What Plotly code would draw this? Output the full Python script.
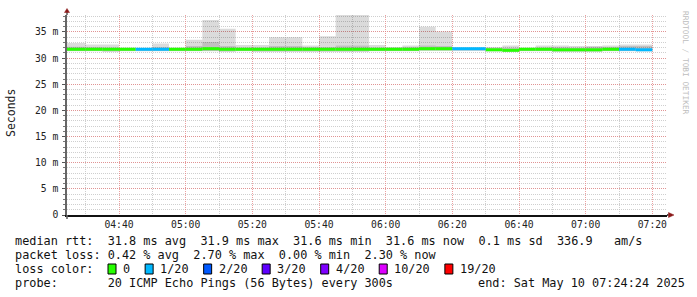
import plotly.graph_objects as go

# ---------------- data ----------------
day = "2025-05-10 "
bin_start = ["04:20", "04:25", "04:30", "04:35", "04:40", "04:45", "04:50", "04:55",
             "05:00", "05:05", "05:10", "05:15", "05:20", "05:25", "05:30", "05:35",
             "05:40", "05:45", "05:50", "05:55", "06:00", "06:05", "06:10", "06:15",
             "06:20", "06:25", "06:30", "06:35", "06:40", "06:45", "06:50", "06:55",
             "07:00", "07:05", "07:10", "07:15"]
data_end = "07:20"

median_ms = [31.7, 31.7, 31.7, 31.7, 31.7, 31.7, 31.7, 31.7,
             31.7, 31.8, 31.7, 31.7, 31.7, 31.7, 31.7, 31.7,
             31.7, 31.7, 31.7, 31.7, 31.7, 31.7, 31.8, 31.8,
             31.8, 31.8, 31.6, 31.5, 31.7, 31.7, 31.6, 31.6,
             31.6, 31.7, 31.7, 31.6]
loss_of_20 = [0, 0, 0, 0, 0, 1, 1, 0,
              0, 0, 0, 0, 0, 0, 0, 0,
              0, 0, 0, 0, 0, 0, 0, 0,
              1, 1, 0, 0, 0, 0, 0, 0,
              0, 0, 1, 1]
smoke_min = [31.3, 31.3, 31.3, 31.2, 31.3, 31.3, 31.3, 31.3,
             31.3, 31.3, 31.2, 31.3, 31.2, 31.2, 31.2, 31.2,
             31.2, 31.2, 31.2, 31.3, 31.3, 31.3, 31.4, 31.4,
             31.4, 31.4, 31.3, 31.2, 31.3, 31.3, 31.2, 31.2,
             31.2, 31.3, 31.3, 31.3]
smoke_max = [32.9, 32.9, 32.6, 32.6, 32.0, 31.9, 32.8, 32.0,
             33.5, 37.3, 35.6, 32.5, 32.5, 34.0, 34.0, 32.4,
             34.2, 39.0, 39.0, 32.5, 32.1, 32.4, 36.0, 35.1,
             32.0, 32.0, 32.1, 32.4, 32.0, 32.4, 32.4, 32.3,
             32.3, 32.4, 32.6, 32.6]
core_lo = [31.35, 31.35, 31.35, 31.25, 31.35, 31.35, 31.35, 31.35,
           31.35, 31.35, 31.25, 31.35, 31.25, 31.25, 31.25, 31.25,
           31.25, 31.25, 31.25, 31.35, 31.35, 31.35, 31.45, 31.45,
           31.45, 31.45, 31.3, 31.2, 31.35, 31.35, 31.25, 31.25,
           31.25, 31.35, 31.35, 31.3]
core_hi = [32.2, 32.2, 32.1, 32.0, 31.9, 31.9, 32.1, 31.9,
           32.3, 33.1, 32.3, 32.0, 32.0, 32.3, 32.3, 32.1,
           32.1, 32.4, 32.4, 32.0, 32.0, 32.1, 32.4, 32.3,
           32.0, 32.0, 32.0, 32.0, 31.9, 32.0, 32.1, 32.0,
           32.2, 32.1, 32.3, 32.3]

y_ticks = [0, 5, 10, 15, 20, 25, 30, 35]
y_ticktext = ["0", "5 m", "10 m", "15 m", "20 m", "25 m", "30 m", "35 m"]

loss_levels = [0, 1, 2, 3, 4, 10, 19]
loss_labels = ["0", "1/20", "2/20", "3/20", "4/20", "10/20", "19/20"]
loss_colors = ["#26ff00", "#00b8ff", "#0059ff", "#5e00ff", "#7e00ff", "#dd00ff", "#ff0000"]

stats_rtt = "median rtt:  31.8 ms avg  31.9 ms max  31.6 ms min  31.6 ms now  0.1 ms sd  336.9   am/s"
stats_loss = "packet loss: 0.42 % avg  2.70 % max  0.00 % min  2.30 % now"
probe_line = "probe:       20 ICMP Echo Pings (56 Bytes) every 300s"
end_line = "end: Sat May 10 07:24:24 2025"

# ---------------- geometry helpers ----------------
W, H = 697, 297
L, T, PW, PH = 67, 15, 600, 200


def px(x):
    return (x - L) / PW


def py(y):
    return (T + PH - y) / PH


def nb(s):
    return s.replace(" ", "\u00a0")


x_step = [day + t for t in bin_start] + [day + data_end]


def stepped(vals):
    return list(vals) + [vals[-1]]


fig = go.Figure()

# outer smoke
fig.add_trace(go.Scatter(x=x_step, y=stepped(smoke_min), mode="lines", line=dict(width=0, shape="hv"),
                         hoverinfo="skip", showlegend=False))
fig.add_trace(go.Scatter(x=x_step, y=stepped(smoke_max), mode="lines", line=dict(width=0, shape="hv"),
                         fill="tonexty", fillcolor="rgba(0,0,0,0.14)", hoverinfo="skip", showlegend=False))
# inner smoke
fig.add_trace(go.Scatter(x=x_step, y=stepped(core_lo), mode="lines", line=dict(width=0, shape="hv"),
                         hoverinfo="skip", showlegend=False))
fig.add_trace(go.Scatter(x=x_step, y=stepped(core_hi), mode="lines", line=dict(width=0, shape="hv"),
                         fill="tonexty", fillcolor="rgba(0,0,0,0.12)", hoverinfo="skip", showlegend=False))

# median segments coloured by loss
for lvl, col in zip(loss_levels, loss_colors):
    xs, ys = [], []
    for i, (m, l) in enumerate(zip(median_ms, loss_of_20)):
        if l == lvl:
            xs += [x_step[i], x_step[i + 1], None]
            ys += [m, m, None]
    if xs:
        fig.add_trace(go.Scatter(x=xs, y=ys, mode="lines", line=dict(width=3, color=col),
                                 hoverinfo="skip", showlegend=False))

mono = "DejaVu Sans Mono"
grid_minor = "rgba(191,191,191,0.75)"
grid_major = "rgba(230,128,128,0.75)"

fig.update_layout(
    width=W, height=H,
    margin=dict(l=L, r=W - L - PW, t=T, b=H - T - PH),
    paper_bgcolor="white", plot_bgcolor="white",
    showlegend=False,
    xaxis=dict(
        type="date",
        range=[day + "04:24:24", day + "07:24:24"],
        tick0=day + "04:00", dtick=20 * 60 * 1000, tickformat="%H:%M",
        showgrid=True, gridcolor=grid_major, griddash="1px,1px", gridwidth=1,
        minor=dict(dtick=10 * 60 * 1000, tick0=day + "04:00", showgrid=True,
                   gridcolor=grid_minor, griddash="1px,1px", gridwidth=1),
        showline=True, linecolor="#111", linewidth=1.6,
        ticks="", ticklabelstandoff=0,
        tickfont=dict(family=mono, size=9.7, color="#222"),
        zeroline=False, fixedrange=True,
    ),
    yaxis=dict(
        range=[0, 38.25],
        tickvals=y_ticks, ticktext=y_ticktext,
        showgrid=True, gridcolor=grid_major, griddash="1px,1px", gridwidth=1,
        minor=dict(dtick=1, showgrid=True, gridcolor=grid_minor, griddash="1px,1px", gridwidth=1,
                   ticks="outside", ticklen=2, tickcolor="#777"),
        showline=True, linecolor="#666", linewidth=1.6,
        ticks="outside", ticklen=3, tickcolor="#555", ticklabelstandoff=2,
        tickfont=dict(family=mono, size=9.7, color="#222"),
        zeroline=False, fixedrange=True,
    ),
)

annotations = []
common = dict(xref="paper", yref="paper", showarrow=False, borderpad=0, borderwidth=0)

annotations.append(dict(text="Seconds", x=px(11), y=py(113), textangle=-90, xanchor="center", yanchor="middle",
                        font=dict(family=mono, size=11.5, color="#222"), **common))
annotations.append(dict(text=nb("RRDTOOL / TOBI OETIKER"), x=px(686), y=py(63), textangle=90,
                        xanchor="center", yanchor="middle",
                        font=dict(family=mono, size=7.8, color="#bdbdbd"), **common))

leg_font = dict(family=mono, size=11.85, color="#111")
x0 = 14.9
annotations.append(dict(text=nb(stats_rtt), x=px(x0), y=py(241), xanchor="left", yanchor="middle", font=leg_font, **common))
annotations.append(dict(text=nb(stats_loss), x=px(x0), y=py(255), xanchor="left", yanchor="middle", font=leg_font, **common))
annotations.append(dict(text=nb("loss color:"), x=px(x0), y=py(269), xanchor="left", yanchor="middle", font=leg_font, **common))
annotations.append(dict(text=nb(probe_line), x=px(x0), y=py(283), xanchor="left", yanchor="middle", font=leg_font, **common))
annotations.append(dict(text=nb(end_line), x=px(x0 + 65 * 7.13), y=py(283), xanchor="left", yanchor="middle", font=leg_font, **common))

shapes = []
cw = 7.13
sx = 108
for lab, col in zip(loss_labels, loss_colors):
    shapes.append(dict(type="rect", xref="paper", yref="paper", x0=px(sx), x1=px(sx + 8), y0=py(274), y1=py(264),
                       fillcolor=col, line=dict(color="#000", width=1)))
    lx = sx + 15
    annotations.append(dict(text=lab, x=px(lx), y=py(269), xanchor="left", yanchor="middle", font=leg_font, **common))
    sx = lx + len(lab) * cw + 15

arrow_col = "#8b1a1a"
# top arrow of y axis
shapes.append(dict(type="line", xref="paper", yref="paper", x0=0, x1=0, y0=1, y1=py(12),
                   line=dict(color="#666", width=1.6)))
shapes.append(dict(type="path", xref="paper", yref="paper",
                   path=f"M {px(64.5)} {py(12.5)} L {px(69.5)} {py(12.5)} L {px(67)} {py(8.5)} Z",
                   fillcolor=arrow_col, line=dict(color=arrow_col, width=0.5)))
# right arrow of x axis
shapes.append(dict(type="line", xref="paper", yref="paper", x0=1, x1=px(668.5), y0=0, y1=0,
                   line=dict(color="#111", width=1.6)))
shapes.append(dict(type="path", xref="paper", yref="paper",
                   path=f"M {px(668.5)} {py(212.5)} L {px(668.5)} {py(217.5)} L {px(674)} {py(215)} Z",
                   fillcolor=arrow_col, line=dict(color=arrow_col, width=0.5)))
# small extension of y axis below x axis
shapes.append(dict(type="line", xref="paper", yref="paper", x0=0, x1=0, y0=0, y1=py(219),
                   line=dict(color="#666", width=1.6)))

fig.update_layout(annotations=annotations, shapes=shapes)

fig.write_html("out.html")
